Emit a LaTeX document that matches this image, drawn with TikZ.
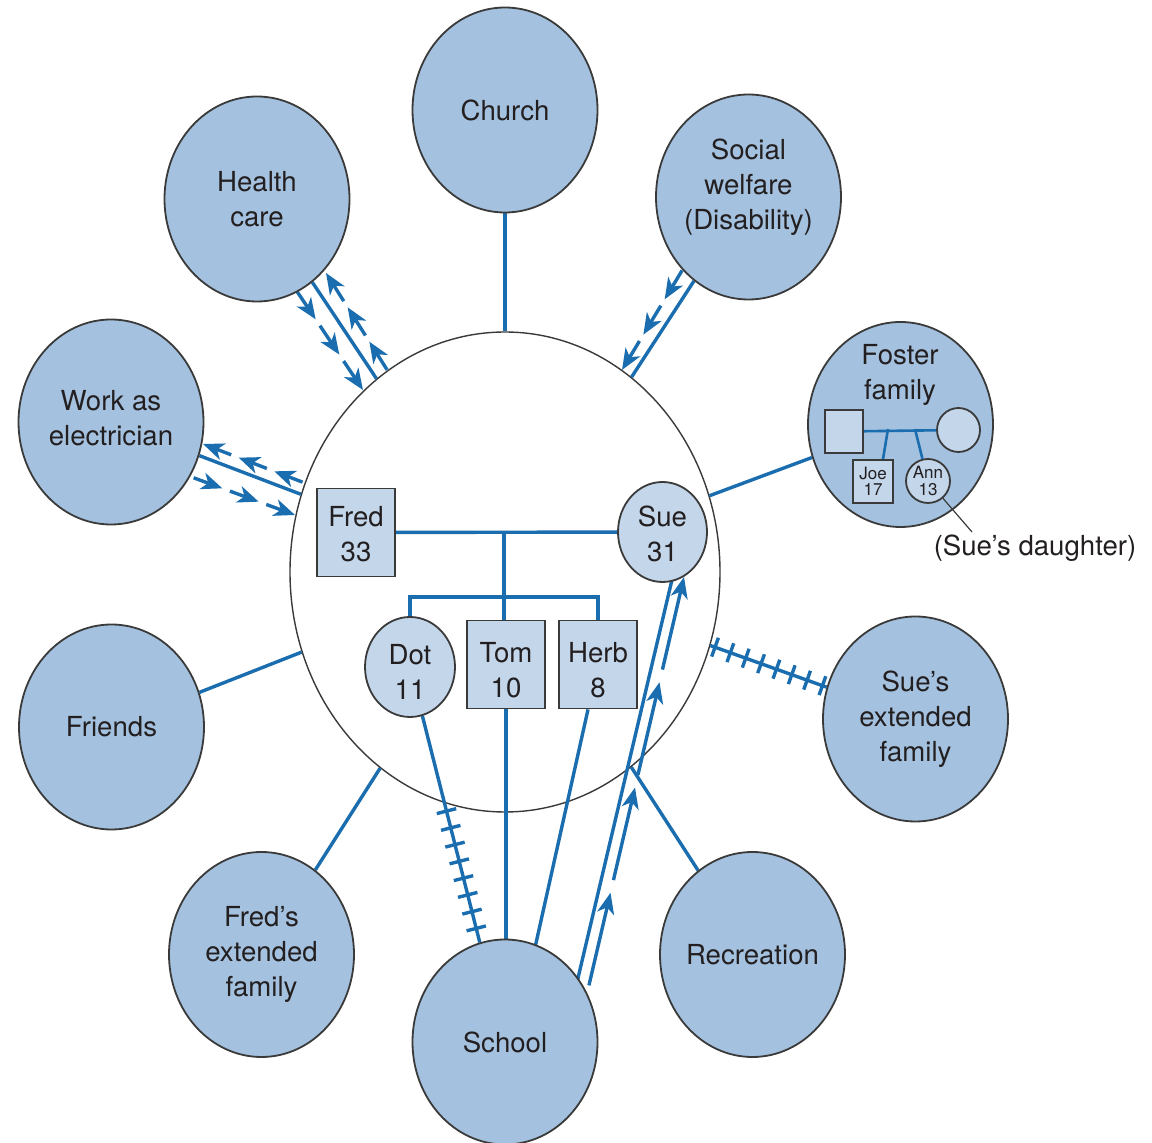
\documentclass[tikz,border=0pt]{standalone}
\usepackage{fontspec}
\setmainfont{TeX Gyre Heros}
\usetikzlibrary{shapes.geometric,calc,arrows.meta,decorations.markings}
\definecolor{outerfill}{HTML}{A4C2DF}
\definecolor{innerfill}{HTML}{C3D6EA}
\definecolor{flowblue}{HTML}{1A6DAE}
\definecolor{rim}{HTML}{3A3A3A}
\definecolor{ink}{HTML}{231F20}
\pgfdeclarelayer{back}
\pgfdeclarelayer{edges}
\pgfsetlayers{back,edges,main}

% a run of arrowed dashes: start, end, number of dashes, gap (fraction)
\newcommand\flowarrows[4]{%
  \foreach \k in {1,...,#3}{%
    \pgfmathsetmacro\runA{(\k-1)/#3+#4}%
    \pgfmathsetmacro\runB{\k/#3}%
    \draw[flow,tip] ($(#1)!\runA!(#2)$) -- ($(#1)!\runB!(#2)$);
  }}

\begin{document}
\begin{tikzpicture}[x=0.5pt,y=-0.5pt,
  txt/.style={text=ink,font=\fontsize{13.8}{17.5}\selectfont,align=center},
  small/.style={text=ink,font=\fontsize{8.5}{8.2}\selectfont,align=center},
  system/.style={ellipse,draw=rim,line width=0.9pt,fill=outerfill,
    minimum width=92.5pt,minimum height=102.5pt,inner sep=0pt,inner xsep=-5pt,txt},
  member/.style={draw=rim,line width=0.9pt,fill=innerfill,inner sep=0pt,txt},
  male/.style={member,rectangle,minimum width=39pt,minimum height=44pt},
  female/.style={member,ellipse,minimum width=44.5pt,minimum height=50pt},
  caption/.style 2 args={label={[txt,yshift=#1]center:{#2}}},
  flow/.style={draw=flowblue,line width=1.7pt},
  thinflow/.style={draw=flowblue,line width=1.3pt},
  tip/.style={-{Stealth[length=10.5pt,width=8.5pt,inset=3pt]}},
  hatch/.style={postaction={decorate,decoration={markings,
    mark=between positions #1 with {\draw[flowblue,line width=1.7pt] (0,-5pt) -- (0,5pt);}}}},
]
\useasboundingbox (0,0) rectangle (1152,1143);

% household boundary
\begin{pgfonlayer}{back}
  \node[ellipse,draw=rim,line width=0.7pt,fill=white,minimum width=215pt,
        minimum height=240pt,inner sep=0pt] (home) at (505,572) {};
\end{pgfonlayer}

% surrounding systems
\node[system] (church) at (505,110) {Church};
\node[system] (health) at (257,199) {Health\\care};
\node[system,caption={5pt}{Social\\welfare\\(Disability)}] (welfare) at (748.5,197) {};
\node[system,caption={2pt}{Work as\\electrician}] (work) at (111,422) {};
\node[system] (foster) at (900.5,424.5) {};
\node[system] (friends) at (111.5,727) {Friends};
\node[system] (sueext) at (915.5,719) {Sue's\\extended\\family};
\node[system] (fredext) at (261.5,954.5) {Fred's\\extended\\family};
\node[system] (school) at (505,1042) {School};
\node[system] (recreation) at (752.5,954.5) {Recreation};

% foster family
\node[txt] (fosterlabel) at (900,375) {Foster\\family};
\node[member,rectangle,minimum width=19pt,minimum height=21.5pt] (fdad) at (844,431.5) {};
\node[member,ellipse,minimum width=21.5pt,minimum height=22pt] (fmom) at (958.5,430) {};
\node[member,rectangle,minimum width=20pt,minimum height=21.5pt,small] (joe) at (873,481.5) {Joe\\17};
\node[member,ellipse,minimum width=22pt,minimum height=22pt,inner sep=-1pt,small] (ann) at (928,481) {Ann\\13};
\coordinate (fosterunionA) at (888,429);
\coordinate (fosterunionB) at (915,429);
\coordinate (joetop) at ($(joe.north)+(10,0)$);
\coordinate (daughtertag) at (972,532);
\draw[thinflow] (fdad) -- (fmom);
\draw[thinflow] (fosterunionA) -- (joetop);
\draw[thinflow] (fosterunionB) -- (ann);
\draw[rim,line width=0.6pt] (ann) -- (daughtertag);
\node[txt] (daughter) at (1035,548) {(Sue's daughter)};

% household members
\node[male,caption={-1pt}{Fred\\33}] (fred) at (356,532.5) {};
\node[female,caption={-1pt}{Sue\\31}] (sue) at (662.5,532) {};
\node[female,minimum width=45pt,caption={-2.5pt}{Dot\\11}] (dot) at (410,667) {};
\node[male,caption={-3pt}{Tom\\10}] (tom) at (506,664.5) {};
\node[male,caption={-3pt}{Herb\\8}] (herb) at (598,664.5) {};

\coordinate (union) at (504,532);
\coordinate (sibs) at (504,597);
\coordinate (herbschool) at (514,1042);
\coordinate (suelineA) at (675,567);
\coordinate (suelineB) at (574,995);

% ends of the arrowed runs
\coordinate (hcIn) at (292,284);   \coordinate (hcInEnd) at (363,390);
\coordinate (hcOut) at (391,376);  \coordinate (hcOutEnd) at (326,273);
\coordinate (wkOut) at (310,485);  \coordinate (wkOutEnd) at (203,444);
\coordinate (wkIn) at (186,475);   \coordinate (wkInEnd) at (295,515);
\coordinate (swIn) at (686,264);   \coordinate (swInEnd) at (622,370);
\coordinate (scUp) at (586,998);   \coordinate (scUpEnd) at (684,577);

\begin{pgfonlayer}{edges}
  % family ties
  \draw[flow] (fred) -- (sue);
  \draw[flow] (union) -- (union |- tom.north);
  \draw[flow] (dot.north) |- (sibs) -| (herb.north);

  % links to the systems
  \draw[flow] (home) -- (church);
  \draw[flow] (home) -- (health);
  \draw[flow] (home) -- (welfare);
  \draw[flow] (home) -- (work);
  \draw[flow] (home) -- (foster);
  \draw[flow] (home) -- (friends);
  \draw[flow] (home) -- (fredext);
  \draw[flow] (home) -- (recreation);
  \draw[flow,hatch={0.04 and 0.97 step 0.132}] (home) -- (sueext);

  % school ties
  \draw[flow,hatch={0.42 and 0.94 step 0.074}] (dot) -- (school);
  \draw[flow] (tom.south) -- (tom.south |- school.north);
  \draw[flow] (herb) -- (herbschool);
  \draw[flow] (suelineA) -- (suelineB);

  % flows of energy
  \flowarrows{hcIn}{hcInEnd}{3}{0.06}
  \flowarrows{hcOut}{hcOutEnd}{3}{0.06}
  \flowarrows{wkOut}{wkOutEnd}{3}{0.07}
  \flowarrows{wkIn}{wkInEnd}{3}{0.07}
  \flowarrows{swIn}{swInEnd}{3}{0.06}
  \flowarrows{scUp}{scUpEnd}{4}{0.03}
\end{pgfonlayer}
\end{tikzpicture}
\end{document}
